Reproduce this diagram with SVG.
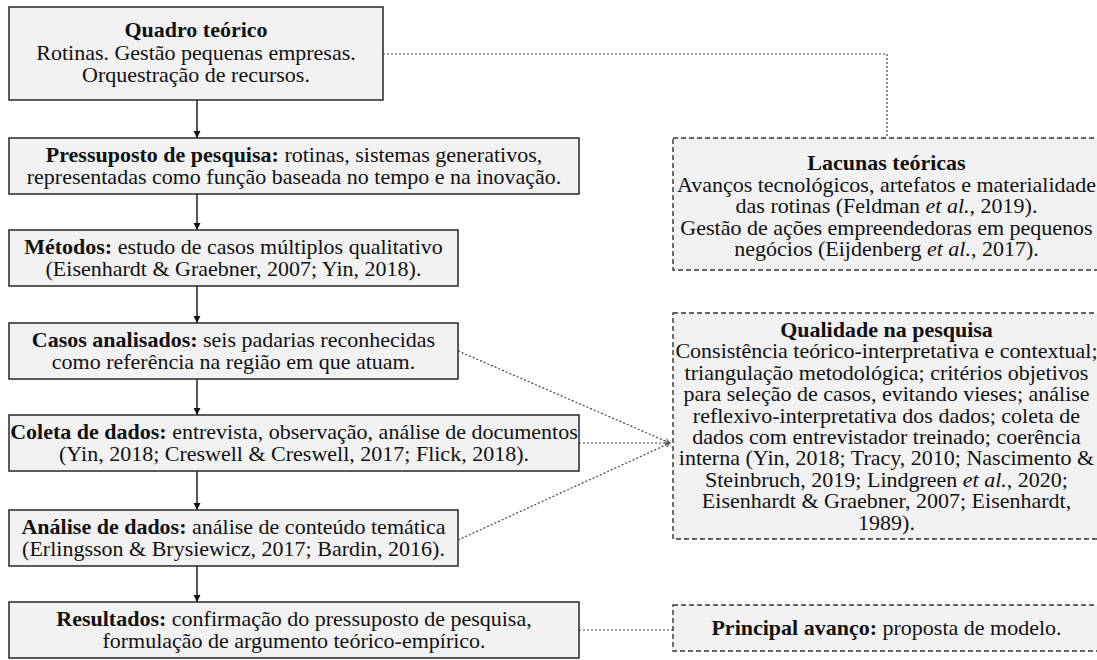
<svg xmlns="http://www.w3.org/2000/svg" width="1097" height="660" viewBox="0 0 1097 660" font-family="'Liberation Serif', 'Times New Roman', Tinos, 'DejaVu Serif', serif">
<defs>
<style>
.box{fill:#f2f2f2;stroke:#333;stroke-width:1.6}
.dbox{fill:#f2f2f2;stroke:#333;stroke-width:1.4;stroke-dasharray:5 3}
.t{font-family:'Liberation Serif','Times New Roman',serif;font-size:22px;fill:#111;text-anchor:middle}
.b{font-weight:bold}
.i{font-style:italic}
.arrow{stroke:#111;stroke-width:1.4;fill:none}
.dot{stroke:#444;stroke-width:1.2;stroke-dasharray:2 2;fill:none}
</style>
<marker id="ah" markerWidth="8" markerHeight="8" refX="7" refY="4" orient="auto" markerUnits="userSpaceOnUse">
<path d="M0,0.5 L7,4 L0,7.5 Z" fill="#111"/>
</marker>
<marker id="oh" markerWidth="7" markerHeight="7" refX="5" refY="3" orient="auto" markerUnits="userSpaceOnUse">
<path d="M0,0.5 L5,3 L0,5.5" fill="none" stroke="#555" stroke-width="0.9"/>
</marker>
</defs>

<g id="connectors">
<line class="arrow" x1="197" y1="100" x2="197" y2="138" marker-end="url(#ah)"/>
<line class="arrow" x1="197" y1="194" x2="197" y2="230" marker-end="url(#ah)"/>
<line class="arrow" x1="197" y1="286" x2="197" y2="323" marker-end="url(#ah)"/>
<line class="arrow" x1="197" y1="379" x2="197" y2="415" marker-end="url(#ah)"/>
<line class="arrow" x1="197" y1="471" x2="197" y2="510" marker-end="url(#ah)"/>
<line class="arrow" x1="197" y1="566" x2="197" y2="602" marker-end="url(#ah)"/>
<polyline class="dot" points="383,54 887,54 887,138"/>
<line class="dot" x1="458" y1="351" x2="670" y2="443" marker-end="url(#oh)"/>
<line class="dot" x1="579" y1="443" x2="670" y2="443" marker-end="url(#oh)"/>
<line class="dot" x1="458" y1="540" x2="670" y2="443" marker-end="url(#oh)"/>
<line class="dot" x1="579" y1="630" x2="673" y2="630"/>
</g>

<g id="quadro" class="t">
<rect class="box" x="9" y="7" width="374" height="93"/>
<text x="196" y="37" class="b">Quadro teórico</text>
<text x="196" y="60">Rotinas. Gestão pequenas empresas.</text>
<text x="196" y="82">Orquestração de recursos.</text>
</g>

<g id="pressuposto" class="t">
<rect class="box" x="9" y="138" width="570" height="56"/>
<text x="294" y="162"><tspan class="b">Pressuposto de pesquisa:</tspan> rotinas, sistemas generativos,</text>
<text x="294" y="184">representadas como função baseada no tempo e na inovação.</text>
</g>

<g id="metodos" class="t">
<rect class="box" x="9" y="230" width="449" height="56"/>
<text x="233.5" y="254"><tspan class="b">Métodos:</tspan> estudo de casos múltiplos qualitativo</text>
<text x="233.5" y="276">(Eisenhardt &amp; Graebner, 2007; Yin, 2018).</text>
</g>

<g id="casos" class="t">
<rect class="box" x="9" y="323" width="449" height="56"/>
<text x="233.5" y="347"><tspan class="b">Casos analisados:</tspan> seis padarias reconhecidas</text>
<text x="233.5" y="369">como referência na região em que atuam.</text>
</g>

<g id="coleta" class="t">
<rect class="box" x="9" y="415" width="570" height="56"/>
<text x="294" y="439"><tspan class="b">Coleta de dados:</tspan> entrevista, observação, análise de documentos</text>
<text x="294" y="461">(Yin, 2018; Creswell &amp; Creswell, 2017; Flick, 2018).</text>
</g>

<g id="analise" class="t">
<rect class="box" x="9" y="510" width="449" height="56"/>
<text x="233.5" y="534"><tspan class="b">Análise de dados:</tspan> análise de conteúdo temática</text>
<text x="233.5" y="556">(Erlingsson &amp; Brysiewicz, 2017; Bardin, 2016).</text>
</g>

<g id="resultados" class="t">
<rect class="box" x="9" y="602" width="570" height="56"/>
<text x="294" y="626"><tspan class="b">Resultados:</tspan> confirmação do pressuposto de pesquisa,</text>
<text x="294" y="648">formulação de argumento teórico-empírico.</text>
</g>

<g id="lacunas" class="t">
<rect class="dbox" x="673" y="138" width="427" height="132"/>
<text x="886.5" y="170" class="b">Lacunas teóricas</text>
<text x="886.5" y="191.5">Avanços tecnológicos, artefatos e materialidade</text>
<text x="886.5" y="213">das rotinas (Feldman <tspan class="i">et al.</tspan>, 2019).</text>
<text x="886.5" y="234.5">Gestão de ações empreendedoras em pequenos</text>
<text x="886.5" y="256">negócios (Eijdenberg <tspan class="i">et al.</tspan>, 2017).</text>
</g>

<g id="qualidade" class="t">
<rect class="dbox" x="673" y="313" width="427" height="226"/>
<text x="886.5" y="337" class="b">Qualidade na pesquisa</text>
<text x="886.5" y="358.4">Consistência teórico-interpretativa e contextual;</text>
<text x="886.5" y="379.8">triangulação metodológica; critérios objetivos</text>
<text x="886.5" y="401.2">para seleção de casos, evitando vieses; análise</text>
<text x="886.5" y="422.6">reflexivo-interpretativa dos dados; coleta de</text>
<text x="886.5" y="444">dados com entrevistador treinado; coerência</text>
<text x="886.5" y="465.4">interna (Yin, 2018; Tracy, 2010; Nascimento &amp;</text>
<text x="886.5" y="486.8">Steinbruch, 2019; Lindgreen <tspan class="i">et al.</tspan>, 2020;</text>
<text x="886.5" y="508.2">Eisenhardt &amp; Graebner, 2007; Eisenhardt,</text>
<text x="886.5" y="529.6">1989).</text>
</g>

<g id="principal" class="t">
<rect class="dbox" x="673" y="605" width="427" height="46"/>
<text x="886.5" y="635"><tspan class="b">Principal avanço:</tspan> proposta de modelo.</text>
</g>
</svg>
